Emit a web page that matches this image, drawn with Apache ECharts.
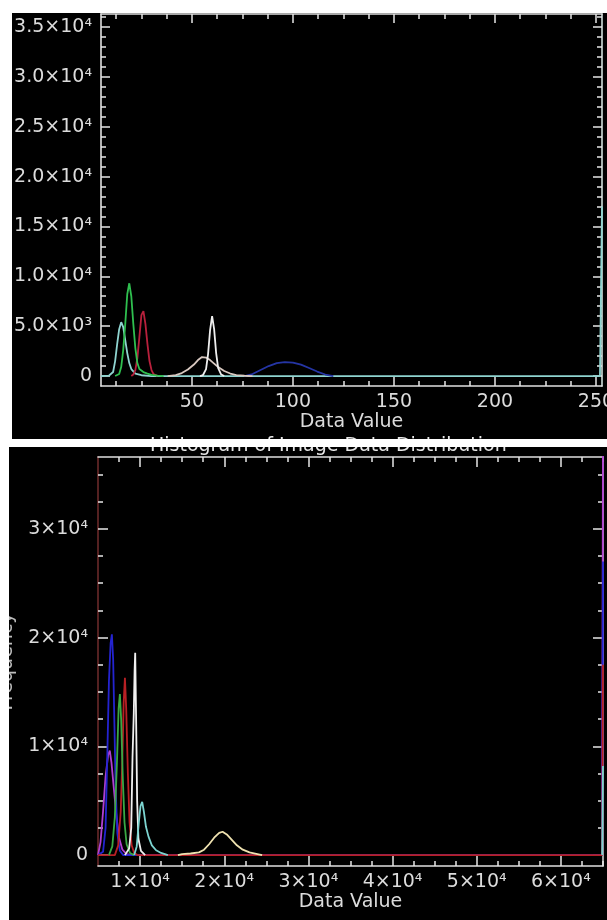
<!DOCTYPE html>
<html><head><meta charset="utf-8">
<script src="https://cdn.jsdelivr.net/npm/echarts@6/dist/echarts.min.js"></script>
<style>html,body{margin:0;padding:0;background:#000;} #c{width:607px;height:920px;}</style>
</head><body><div id="c"></div>
<script>
// ---------------- DATA: top panel (8-bit histogram) ----------------
const topCyanX = [5, 9, 11, 12, 13, 14, 15, 16, 17, 18, 19, 20, 22, 25, 30, 252, 253];
const topCyanY = [0, 50, 400, 1500, 3200, 4700, 5400, 4900, 3600, 2300, 1300, 700, 250, 80, 0, 0, 17000];
const topGreenX = [12, 14, 15, 16, 17, 18, 19, 20, 21, 22, 23, 24, 26, 28, 30, 33, 36];
const topGreenY = [0, 200, 900, 2600, 5200, 8200, 9300, 8000, 5200, 2800, 1300, 700, 400, 250, 120, 40, 0];
const topRedX = [20, 21, 22, 23, 24, 25, 26, 27, 28, 29, 30, 31, 33];
const topRedY = [0, 150, 600, 1800, 3900, 6100, 6500, 5200, 3200, 1500, 600, 200, 0];
const topWhiteBroadX = [38, 42, 45, 48, 51, 53, 55, 57, 59, 61, 63, 66, 69, 72, 76, 80];
const topWhiteBroadY = [0, 100, 300, 650, 1150, 1600, 1900, 1850, 1600, 1250, 900, 500, 250, 100, 30, 0];
const topWhiteSharpX = [54, 55.5, 57, 58, 59, 60, 61, 62, 63, 64.5, 66];
const topWhiteSharpY = [0, 100, 700, 2200, 4600, 6000, 4700, 2300, 800, 150, 0];
const topBlueX = [76, 80, 84, 88, 92, 96, 100, 104, 108, 112, 116, 120];
const topBlueY = [0, 200, 600, 1000, 1300, 1400, 1350, 1150, 800, 450, 150, 0];

// ---------------- DATA: bottom panel (16-bit histogram) ----------------
const botPurpleX = [5000, 5300, 5600, 5900, 6200, 6400, 6600, 6900, 7200, 7500, 7900, 8400, 9000, 64900, 65000];
const botPurpleY = [0, 1200, 4000, 7200, 9200, 9600, 8500, 6000, 3500, 1600, 500, 100, 0, 0, 40000];
const botBlueX = [5000, 5600, 5900, 6100, 6300, 6500, 6650, 6800, 6950, 7100, 7300, 7600, 8000, 64900, 65000];
const botBlueY = [0, 300, 2500, 9000, 16000, 19500, 20300, 18000, 12000, 6000, 2000, 400, 0, 0, 27000];
const botRedX = [5000, 7000, 7400, 7700, 7900, 8050, 8200, 8350, 8550, 8750, 9000, 9300, 9700, 64900, 65000];
const botRedY = [0, 0, 900, 4000, 9000, 14000, 16300, 13500, 7500, 3000, 900, 200, 0, 0, 17500];
const botGreenX = [6300, 6700, 7000, 7250, 7450, 7600, 7750, 7950, 8150, 8400, 8800, 9300];
const botGreenY = [0, 800, 3500, 8500, 13500, 14800, 12500, 7000, 3000, 1000, 200, 0];
const botWhiteX = [8200, 8700, 8950, 9100, 9250, 9350, 9420, 9520, 9650, 9800, 10100, 10600];
const botWhiteY = [0, 600, 2500, 9000, 13000, 17000, 18600, 13000, 5000, 1500, 400, 0];
const botYellowX = [14500, 15000, 16000, 17000, 17600, 18200, 18800, 19400, 19800, 20300, 20900, 21500, 22200, 23000, 23800, 24500];
const botYellowY = [0, 100, 150, 250, 500, 1000, 1600, 2050, 2150, 1900, 1400, 900, 500, 250, 120, 0];
const botCyanX = [9300, 9600, 9850, 10050, 10250, 10450, 10700, 11000, 11400, 11900, 12500, 13300, 13400, 64900, 65000];
const botCyanY = [0, 800, 3000, 4500, 4900, 4000, 2600, 1700, 900, 450, 200, 0, null, 0, 8200];

// ---------------- TICKS / LABELS ----------------
const topXTicks = [50, 100, 150, 200, 250];
const topXLabels = ['50', '100', '150', '200', '250'];
const topYTicks = [0, 5000, 10000, 15000, 20000, 25000, 30000, 35000];
const topYLabels = ['0', '5.0×10³', '1.0×10⁴', '1.5×10⁴', '2.0×10⁴', '2.5×10⁴', '3.0×10⁴', '3.5×10⁴'];
const botXTicks = [10000, 20000, 30000, 40000, 50000, 60000];
const botXLabels = ['1×10⁴', '2×10⁴', '3×10⁴', '4×10⁴', '5×10⁴', '6×10⁴'];
const botYTicks = [0, 10000, 20000, 30000];
const botYLabels = ['0', '1×10⁴', '2×10⁴', '3×10⁴'];
const topXMinorStep = 12.5, topYMinorStep = 1000, botXMinorStep = 2500, botYMinorStep = 2500;

const xTitle = 'Data Value';
const yTitle = 'Frequency';
const bottomTitle = 'Histogram of Image Data Distribution';

// ---------------- helpers ----------------
function steps(a, b, s) { const r = []; for (let v = a; v <= b + 1e-9; v += s) r.push(+v.toFixed(4)); return r; }
function pts(xs, ys) { return xs.map((x, i) => [x, ys[i]]); }
const FONT = 'DejaVu Sans';
const LBL = '#dcdcdc';

function axis(kind, gi, pos, min, max, ticks, len, lineColor, extra) {
  const a = {
    type: 'value', gridIndex: gi, position: pos, min: min, max: max,
    axisLine: { show: !!lineColor, onZero: false, lineStyle: { color: lineColor || '#ddd', width: 1.6 } },
    axisTick: { show: true, inside: true, length: len, customValues: ticks, lineStyle: { color: '#e6e6e6', width: 1.5 } },
    axisLabel: { show: false },
    splitLine: { show: false }
  };
  if (extra) Object.assign(a, extra);
  return a;
}
function labelCfg(ticks, labels, margin) {
  return {
    show: true, customValues: ticks, margin: margin,
    formatter: v => { const i = ticks.indexOf(v); return i >= 0 ? labels[i] : ''; },
    color: LBL, fontSize: 19, fontFamily: FONT
  };
}

const T = { xmin: 5, xmax: 253, ymin: -1000, ymax: 36300 };
const B = { xmin: 5000, xmax: 65000, ymin: -1000, ymax: 36600 };

const xAxes = [
  axis('x', 0, 'bottom', T.xmin, T.xmax, topXTicks, 9, '#e0e0e0', {
    axisLabel: labelCfg(topXTicks, topXLabels, 7),
    name: xTitle, nameLocation: 'middle', nameGap: 26,
    nameTextStyle: { color: LBL, fontSize: 19, fontFamily: FONT }
  }),
  axis('x', 0, 'bottom', T.xmin, T.xmax, steps(12.5, 250, topXMinorStep), 5, null),
  axis('x', 0, 'top', T.xmin, T.xmax, topXTicks, 9, '#e0e0e0'),
  axis('x', 0, 'top', T.xmin, T.xmax, steps(12.5, 250, topXMinorStep), 5, null),
  axis('x', 1, 'bottom', B.xmin, B.xmax, botXTicks, 10, '#e0e0e0', {
    axisLabel: labelCfg(botXTicks, botXLabels, 7),
    name: xTitle, nameLocation: 'middle', nameGap: 27,
    nameTextStyle: { color: LBL, fontSize: 19, fontFamily: FONT }
  }),
  axis('x', 1, 'bottom', B.xmin, B.xmax, steps(7500, 65000, botXMinorStep), 5, null),
  axis('x', 1, 'top', B.xmin, B.xmax, botXTicks, 10, '#e0e0e0'),
  axis('x', 1, 'top', B.xmin, B.xmax, steps(7500, 65000, botXMinorStep), 5, null)
];
const yAxes = [
  axis('y', 0, 'left', T.ymin, T.ymax, topYTicks, 9, '#e0e0e0', {
    axisLabel: labelCfg(topYTicks, topYLabels, 9)
  }),
  axis('y', 0, 'left', T.ymin, T.ymax, steps(1000, 36000, topYMinorStep), 5, null),
  axis('y', 0, 'right', T.ymin, T.ymax, topYTicks, 9, '#d0e0dc'),
  axis('y', 0, 'right', T.ymin, T.ymax, steps(1000, 36000, topYMinorStep), 5, null),
  axis('y', 1, 'left', B.ymin, B.ymax, botYTicks, 10, '#6a2a2a', {
    axisLabel: labelCfg(botYTicks, botYLabels, 10),
    name: yTitle, nameLocation: 'middle', nameGap: 81,
    nameTextStyle: { color: '#bcbcbc', fontSize: 19, fontFamily: FONT }
  }),
  axis('y', 1, 'left', B.ymin, B.ymax, steps(2500, 35000, botYMinorStep), 5, null),
  axis('y', 1, 'right', B.ymin, B.ymax, botYTicks, 10, '#cfcfcf'),
  axis('y', 1, 'right', B.ymin, B.ymax, steps(2500, 35000, botYMinorStep), 5, null)
];

function line(name, xs, ys, color, gi) {
  return {
    type: 'line', name: name, xAxisIndex: gi === 0 ? 0 : 4, yAxisIndex: gi === 0 ? 0 : 4,
    data: pts(xs, ys), showSymbol: false, symbol: 'none', clip: true, connectNulls: false,
    lineStyle: { color: color, width: 1.8 }, itemStyle: { color: color }, z: 3
  };
}

const series = [
  line('cyan', topCyanX, topCyanY, '#8fd4d0', 0),
  line('blue', topBlueX, topBlueY, '#2535a5', 0),
  line('white broad', topWhiteBroadX, topWhiteBroadY, '#d8c8c0', 0),
  line('white', topWhiteSharpX, topWhiteSharpY, '#eeeeee', 0),
  line('red', topRedX, topRedY, '#b8203c', 0),
  line('green', topGreenX, topGreenY, '#2fbf4f', 0),

  line('purple', botPurpleX, botPurpleY, '#b040d0', 1),
  line('blue', botBlueX, botBlueY, '#2424d0', 1),
  line('red', botRedX, botRedY, '#b82024', 1),
  line('green', botGreenX, botGreenY, '#3aa844', 1),
  line('white', botWhiteX, botWhiteY, '#f0f0f0', 1),
  line('yellow', botYellowX, botYellowY, '#efe2b0', 1),
  line('cyan', botCyanX, botCyanY, '#7cd4d0', 1)
];

const chart = echarts.init(document.getElementById('c'), null, { renderer: 'canvas' });
chart.setOption({
  animation: false,
  backgroundColor: '#000',
  title: [{
    text: bottomTitle, left: 150, top: 437, padding: 0,
    textStyle: { color: '#e8e8e8', fontSize: 19, fontWeight: 'normal', fontFamily: FONT }
  }],
  grid: [
    { left: 101, top: 14, width: 501, height: 372, containLabel: false, outerBoundsMode: 'none' },
    { left: 98, top: 457, width: 505, height: 409, containLabel: false, outerBoundsMode: 'none' }
  ],
  xAxis: xAxes,
  yAxis: yAxes,
  series: series,
  graphic: [
    { type: 'rect', z: 100, shape: { x: 0, y: 0, width: 607, height: 13 }, style: { fill: '#ffffff' } },
    { type: 'rect', z: 100, shape: { x: 0, y: 0, width: 12, height: 440 }, style: { fill: '#ffffff' } },
    { type: 'rect', z: 100, shape: { x: 0, y: 439, width: 607, height: 8 }, style: { fill: '#ffffff' } },
    { type: 'rect', z: 100, shape: { x: 0, y: 447, width: 9, height: 473 }, style: { fill: '#ffffff' } }
  ]
});
</script>
</body></html>
